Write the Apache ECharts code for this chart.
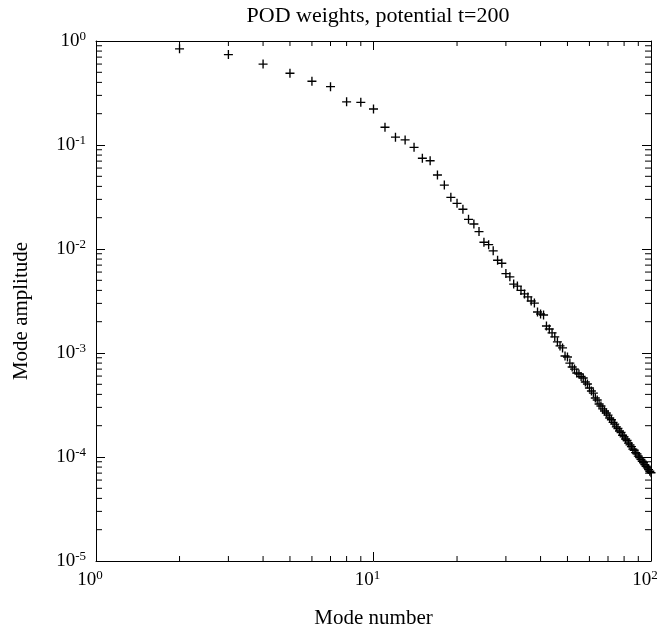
<!DOCTYPE html>
<html>
<head>
<meta charset="utf-8">
<script src="https://cdn.jsdelivr.net/npm/echarts@6/dist/echarts.min.js"></script>
<style>
  html, body { margin: 0; padding: 0; background: #fff; }
  #chart { width: 659px; height: 630px; }
</style>
</head>
<body>
<div id="chart"></div>
<script>
// mode numbers 2..100
var modes = [];
for (var k = 2; k <= 100; k++) modes.push(k);

// amplitudes
var amps = [
  0.84, 0.74, 0.60, 0.49, 0.41, 0.364, 0.26, 0.257, 0.222,            // 2-10
  0.148, 0.119, 0.112, 0.095, 0.0745, 0.0706, 0.0515, 0.0412, 0.0314, 0.0275, // 11-20
  0.0241, 0.0193, 0.0174, 0.0147, 0.0116, 0.0110, 0.0096, 0.0078, 0.0073, 0.0058, // 21-30
  0.0054, 0.0046, 0.0044, 0.0040, 0.0037, 0.00346, 0.00316, 0.00302, 0.00248, 0.00237, // 31-40
  0.00232, 0.00182, 0.00170, 0.00156, 0.00143, 0.00128, 0.00117, 0.00112, 0.000935, 0.000916, // 41-50
  0.00080, 0.000733, 0.00070, 0.000642, 0.000628, 0.000594, 0.000575, 0.000526, 0.000503, 0.000461, // 51-60
  0.000431, 0.000412, 0.000369, 0.000353, 0.000323, 0.000309, 0.00029, 0.000277, 0.000265, 0.000253, // 61-70
  0.000237, 0.000228, 0.000215, 0.000207, 0.000195, 0.000188, 0.000178, 0.000172, 0.000162, 0.000156, // 71-80
  0.000149, 0.000144, 0.000136, 0.000131, 0.000126, 0.000119, 0.000116, 0.000110, 0.000107, 0.000102, // 81-90
  0.0000985, 0.000095, 0.000091, 0.000088, 0.0000845, 0.0000815, 0.0000785, 0.0000757, 0.000073, 0.0000705 // 91-100
];

var xMinor = [2, 3, 4, 5, 6, 7, 8, 9, 20, 30, 40, 50, 60, 70, 80, 90];
var yMinor = [];
[1e-5, 1e-4, 1e-3, 1e-2, 1e-1].forEach(function (d) {
  for (var m = 2; m <= 9; m++) yMinor.push(+(m * d).toPrecision(2));
});

var points = modes.map(function (n, i) { return [n, amps[i]]; });

var myChart = echarts.init(document.getElementById('chart'));
var serif = 'Liberation Serif';

function powLabel(v) {
  var e = Math.round(Math.log10(v));
  return '10{s|' + e + '}';
}
var richSup = {
  s: { fontSize: 13, fontFamily: serif, color: '#000', verticalAlign: 'bottom', padding: [0, 0, 9, 0] }
};

var option = {
  backgroundColor: '#fff',
  animation: false,
  title: {
    text: 'POD weights, potential t=200',
    left: 373,
    textAlign: 'center',
    top: 0,
    textStyle: { fontFamily: serif, fontSize: 22, fontWeight: 'normal', color: '#000' }
  },
  grid: { left: 96, right: 8, top: 41, bottom: 69, outerBoundsMode: 'none', containLabel: false },
  xAxis: [{
    type: 'log', logBase: 10, min: 1, max: 100,
    name: 'Mode number', nameLocation: 'middle', nameGap: 47,
    nameTextStyle: { fontFamily: serif, fontSize: 21, color: '#000' },
    axisLine: { lineStyle: { color: '#000', width: 1 } },
    axisTick: { inside: true, length: 9, lineStyle: { color: '#000' } },
    axisLabel: { fontFamily: serif, fontSize: 19, color: '#000', margin: 8, padding: [0, 12, 0, 0], formatter: powLabel, rich: richSup },
    splitLine: { show: false }
  }, {
    type: 'log', logBase: 10, min: 1, max: 100, position: 'top',
    axisLine: { lineStyle: { color: '#000', width: 1 } },
    axisTick: { inside: true, length: 9, lineStyle: { color: '#000' } },
    axisLabel: { show: false },
    splitLine: { show: false }
  }],
  yAxis: [{
    type: 'log', logBase: 10, min: 1e-5, max: 1,
    name: 'Mode amplitude', nameLocation: 'middle', nameGap: 64, nameRotate: 90,
    nameTextStyle: { fontFamily: serif, fontSize: 21, color: '#000', padding: [0, 0, 0, -20] },
    axisLine: { lineStyle: { color: '#000', width: 1 } },
    axisTick: { inside: true, length: 9, lineStyle: { color: '#000' } },
    axisLabel: { fontFamily: serif, fontSize: 19, color: '#000', margin: 10, formatter: powLabel, rich: richSup },
    splitLine: { show: false }
  }, {
    type: 'log', logBase: 10, min: 1e-5, max: 1, position: 'right',
    axisLine: { lineStyle: { color: '#000', width: 1 } },
    axisTick: { inside: true, length: 9, lineStyle: { color: '#000' } },
    axisLabel: { show: false },
    splitLine: { show: false }
  }],
  series: [
    {
      // minor ticks on bottom & top
      type: 'custom',
      silent: true,
      data: xMinor.map(function (v) { return [v, 1]; }),
      renderItem: function (params, api) {
        var p = api.coord([api.value(0), api.value(1)]);
        var cs = params.coordSys;
        var st = { stroke: '#000', lineWidth: 1 };
        return {
          type: 'group',
          children: [
            { type: 'line', shape: { x1: p[0], y1: cs.y + cs.height, x2: p[0], y2: cs.y + cs.height - 5 }, style: st },
            { type: 'line', shape: { x1: p[0], y1: cs.y, x2: p[0], y2: cs.y + 5 }, style: st }
          ]
        };
      }
    },
    {
      // minor ticks on left & right
      type: 'custom',
      silent: true,
      data: yMinor.map(function (v) { return [10, v]; }),
      renderItem: function (params, api) {
        var p = api.coord([api.value(0), api.value(1)]);
        var cs = params.coordSys;
        var st = { stroke: '#000', lineWidth: 1 };
        return {
          type: 'group',
          children: [
            { type: 'line', shape: { x1: cs.x, y1: p[1], x2: cs.x + 6, y2: p[1] }, style: st },
            { type: 'line', shape: { x1: cs.x + cs.width, y1: p[1], x2: cs.x + cs.width - 6, y2: p[1] }, style: st }
          ]
        };
      }
    },
    {
      name: 'weights',
      type: 'scatter',
      data: points,
      symbol: 'path://M3.4,0H4.6V8H3.4ZM0,3.4H8V4.6H0Z',
      symbolSize: 9,
      itemStyle: { color: '#000', opacity: 1 }
    }
  ]
};

myChart.setOption(option);
</script>
</body>
</html>
